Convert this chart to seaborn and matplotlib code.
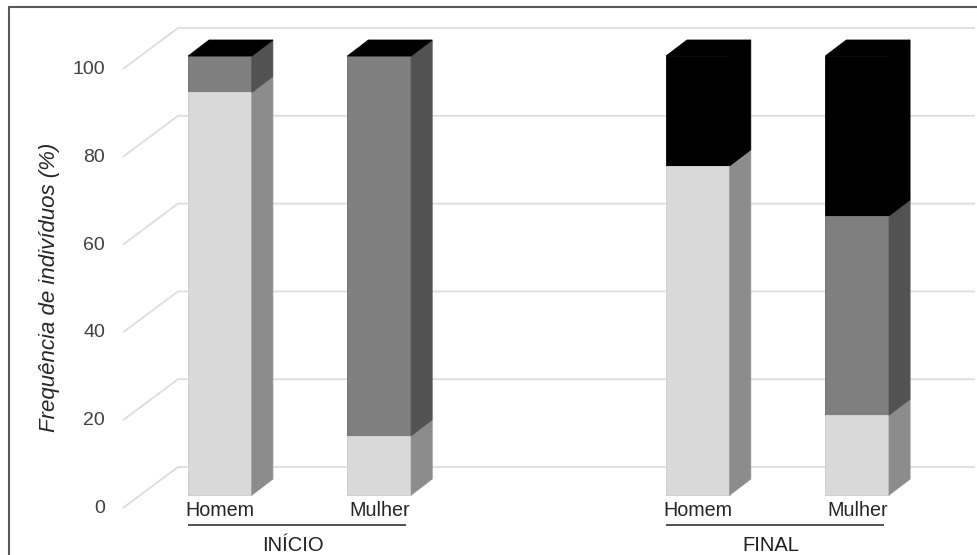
import matplotlib
matplotlib.use("Agg")
import numpy as np
import pandas as pd
import seaborn as sns
import matplotlib.pyplot as plt
from matplotlib.patches import Polygon
from matplotlib.lines import Line2D

# ---- data -------------------------------------------------------------
grupos = ["INÍCIO", "INÍCIO", "FINAL", "FINAL"]
sexos = ["Homem", "Mulher", "Homem", "Mulher"]
serie_1 = [91.7, 13.5, 75.0, 18.2]   # light grey segment (bottom)
serie_2 = [8.3, 86.5, 0.0, 45.4]     # mid grey segment
serie_3 = [0.0, 0.0, 25.0, 36.4]     # black segment (top)
y_ticks = [0, 20, 40, 60, 80, 100]
y_label = "Frequência de indivíduos (%)"

# ---- style ------------------------------------------------------------
sns.set_theme(style="white")
plt.rcParams["font.family"] = ["Liberation Sans", "DejaVu Sans"]

FRONT = ["#d9d9d9", "#7f7f7f", "#000000"]
SIDE = ["#8c8c8c", "#525252", "#000000"]
TOP = "#000000"
GRID = "#dddddd"
TEXT = "#262626"

W, H = 977, 555
fig = plt.figure(figsize=(W / 100, H / 100), dpi=100)
fig.patch.set_facecolor("white")
ax = fig.add_axes([0, 0, 1, 1])

# pixel layout of the pseudo-3D scene
X0_PX, X_STEP_PX = 220.0, 159.3   # centre of first slot, spacing between slots
Y0_PX, Y_UNIT_PX = 495.0, 4.39    # floor of front faces, pixels per percent


def xd(px):
    return (px - X0_PX) / X_STEP_PX


def yd(py):
    return (Y0_PX - py) / Y_UNIT_PX


BAR_W = 0.4
DX = 21 / X_STEP_PX          # depth of the bars
DY = 16 / Y_UNIT_PX

# ---- table for seaborn ------------------------------------------------
keys = [f"{g}|{s}" for g, s in zip(grupos, sexos)]
order = [keys[0], keys[1], "", keys[2], keys[3]]
c1 = np.array(serie_1)
c2 = c1 + np.array(serie_2)
c3 = c2 + np.array(serie_3)
df = pd.DataFrame({"barra": keys, "c1": c1, "c2": c2, "c3": c3})

# stacked front faces: draw cumulative totals from the top series down
for col, color in [("c3", FRONT[2]), ("c2", FRONT[1]), ("c1", FRONT[0])]:
    sns.barplot(data=df, x="barra", y=col, order=order, color=color,
                saturation=1, width=BAR_W, errorbar=None, linewidth=0.6,
                edgecolor=color, ax=ax, zorder=3)

# side faces and tops
for i, key in enumerate(keys):
    p = order.index(key)
    right = p + BAR_W / 2
    left = p - BAR_W / 2
    bounds = [0.0, c1[i], c2[i], c3[i]]
    for j in range(3):
        b, t = bounds[j], bounds[j + 1]
        if t > b:
            ax.add_patch(Polygon([(right, b), (right + DX, b + DY),
                                  (right + DX, t + DY), (right, t)],
                                 closed=True, facecolor=SIDE[j],
                                 edgecolor=SIDE[j], lw=0.6, zorder=3))
    top = bounds[-1]
    ax.add_patch(Polygon([(left, top), (left + DX, top + DY),
                          (right + DX, top + DY), (right, top)],
                         closed=True, facecolor=TOP, edgecolor=TOP,
                         lw=0.6, zorder=4))

# back wall and side wall gridlines
WALL_FRONT_X, WALL_BACK_X, WALL_RIGHT_X = xd(123), xd(178), xd(975)
FRONT_OFF, BACK_OFF = yd(508), yd(467)
for v in y_ticks:
    ax.plot([WALL_FRONT_X, WALL_BACK_X, WALL_RIGHT_X],
            [v + FRONT_OFF, v + BACK_OFF, v + BACK_OFF],
            color=GRID, lw=1.3, zorder=1, solid_capstyle="butt")
    ax.text(xd(105), v + yd(513), f"{v}", ha="right", va="baseline",
            fontsize=14, color="#404040")

# category labels
for i, key in enumerate(keys):
    p = order.index(key)
    ax.text(p, yd(516), sexos[i], ha="center", va="baseline",
            fontsize=14.2, color=TEXT)

# group labels with underline
for g in dict.fromkeys(grupos):
    ps = [order.index(k) for k, gg in zip(keys, grupos) if gg == g]
    x_a, x_b = min(ps) - BAR_W / 2, max(ps) + BAR_W / 2 - 0.03
    ax.plot([x_a, x_b], [yd(525), yd(525)], color="#333333", lw=1.2,
            zorder=2, solid_capstyle="butt")
    ax.text((x_a + x_b) / 2 - 0.03, yd(551), g, ha="center", va="baseline",
            fontsize=14.5, color="#1f1f1f")

ax.text(xd(50), yd(287), y_label, rotation=90, ha="center", va="center",
        style="italic", fontsize=16, color=TEXT)

ax.set_xlim(xd(0), xd(W))
ax.set_ylim(yd(H), yd(0))
ax.axis("off")

# outer frame (left and top edges)
fig.add_artist(Line2D([8.5 / W, 8.5 / W], [0, 1 - 6.5 / H],
                      transform=fig.transFigure, color="#595959", lw=1.5))
fig.add_artist(Line2D([8.5 / W, 1], [1 - 6.5 / H, 1 - 6.5 / H],
                      transform=fig.transFigure, color="#595959", lw=1.5))

fig.savefig("out.png", dpi=100, facecolor="white")
